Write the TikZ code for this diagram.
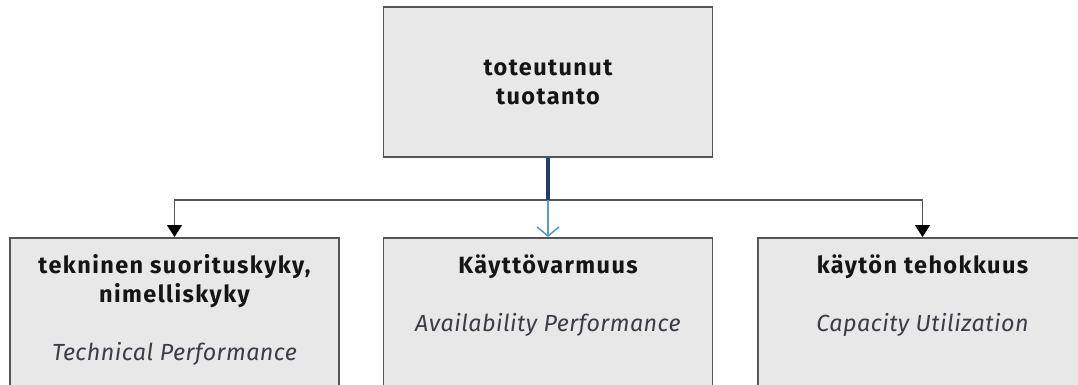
\documentclass[tikz,border=0pt]{standalone}
\usepackage{fontspec}
\setmainfont{Fira Sans}
\usetikzlibrary{arrows.meta}
\definecolor{boxfill}{HTML}{E8E8E8}
\definecolor{boxline}{HTML}{555555}
\definecolor{navy}{HTML}{1F3F66}
\definecolor{lblue}{HTML}{5B9BD5}
\definecolor{ittext}{HTML}{3C3C46}
\definecolor{ttext}{HTML}{151515}
\newfontfamily\ttlfont[LetterSpace=6]{Fira Sans}
\newfontfamily\subfont[LetterSpace=2]{Fira Sans}
\begin{document}
\begin{tikzpicture}[x=1pt,y=-1pt,
  box/.style={draw=boxline,line width=1.8pt,fill=boxfill,minimum width=329pt,inner sep=0pt},
  ttl/.style={font=\ttlfont\fontsize{23.5}{29}\selectfont\bfseries,text=ttext,anchor=base,inner sep=0pt},
  sub/.style={font=\subfont\fontsize{23.3}{28}\selectfont\itshape,text=ittext,anchor=base,inner sep=0pt},
  conn/.style={draw=boxline,line width=1.4pt},
  blk/.style={-{Triangle[length=12pt,width=15pt,color=black,fill=black]}},
  blu/.style={draw=lblue,line width=1.6pt,-{Straight Barb[length=9pt,width=22pt,line width=1.6pt]}}]
\clip (0,0) rectangle (1078,385);
\fill[white] (0,0) rectangle (1078,385);
% boxes
\node[box,minimum height=150pt] (top) at (548,82) {};
\node[box,minimum height=170pt,anchor=north] (left) at (174.5,237) {};
\node[box,minimum height=170pt,anchor=north] (mid) at (548,237) {};
\node[box,minimum height=170pt,anchor=north] (right) at (922.5,237) {};
% texts
\node[ttl] (t1) at (548,76) {toteutunut};
\node[ttl] (t2) at (548,105) {tuotanto};
\node[ttl] (l1) at (174.5,273) {tekninen suorituskyky,};
\node[ttl] (l2) at (174.5,302) {nimelliskyky};
\node[sub] (l3) at (174.5,360) {Technical Performance};
\node[ttl] (m1) at (548,273) {Käyttövarmuus};
\node[sub] (m2) at (548,331) {Availability Performance};
\node[ttl] (r1) at (922.5,273) {käytön tehokkuus};
\node[sub] (r2) at (922.5,331) {Capacity Utilization};
% connectors
\coordinate (hub) at (548,200);
\draw[conn,blk] (hub) -| (left.north);
\draw[conn,blk] (hub) -| (right.north);
\draw[draw=navy,line width=3.5pt] (top.south) -- (hub);
\draw[blu] (hub) -- (mid.north);
\end{tikzpicture}
\end{document}
